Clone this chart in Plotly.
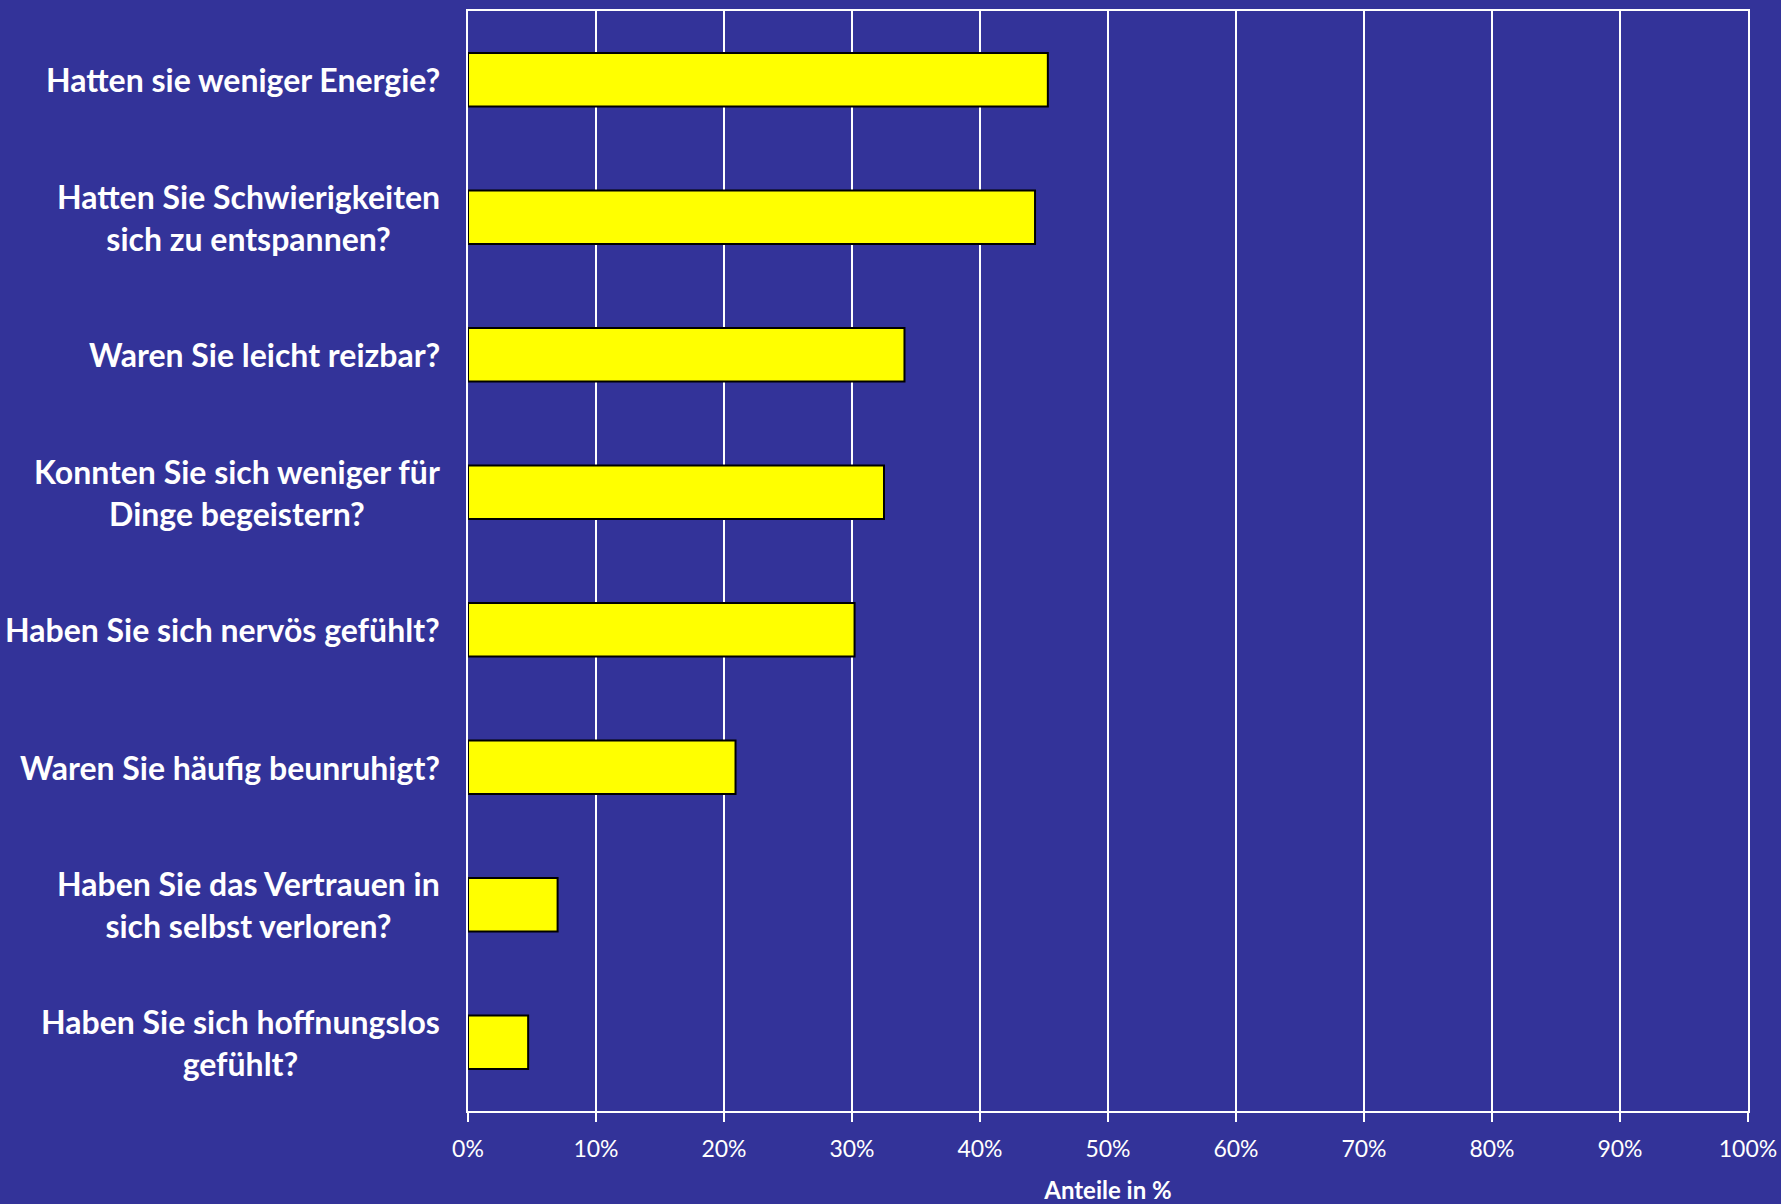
import plotly.graph_objects as go

categories = [
    "Hatten sie weniger Energie?",
    "Hatten Sie Schwierigkeiten<br>sich zu entspannen?",
    "Waren Sie leicht reizbar?",
    "Konnten Sie sich weniger für<br>Dinge begeistern?",
    "Haben Sie sich nervös gefühlt?",
    "Waren Sie häufig beunruhigt?",
    "Haben Sie das Vertrauen in<br>sich selbst verloren?",
    "Haben Sie sich hoffnungslos<br>gefühlt?",
]
values = [0.453, 0.443, 0.341, 0.325, 0.302, 0.209, 0.070, 0.047]
tick_vals = [i / 10 for i in range(11)]
tick_text = [f"{i * 10}%" for i in range(11)]
x_title = "Anteile in %"

BG = "#333399"
FONT = "Lato, Open Sans, sans-serif"

fig = go.Figure()
fig.add_trace(go.Bar(
    y=categories, x=values, orientation="h",
    marker=dict(color="#FFFF00", line=dict(color="#000000", width=2)),
    width=0.39,
    hoverinfo="skip",
))

for c in categories:
    fig.add_annotation(
        x=0, xref="paper", y=c, yref="y",
        text=f"<b>{c}</b>", showarrow=False,
        xanchor="right", yanchor="middle", align="center",
        xshift=-26,
        font=dict(family=FONT, size=32, color="white"),
    )

fig.update_layout(
    width=1781, height=1204,
    paper_bgcolor=BG, plot_bgcolor=BG,
    margin=dict(l=468, r=33, t=11, b=93, autoexpand=False),
    showlegend=False,
    bargap=0.6,
)
fig.update_xaxes(
    range=[0, 1], tickvals=tick_vals, ticktext=tick_text,
    showgrid=True, gridcolor="white", gridwidth=2,
    showline=True, linecolor="white", linewidth=2, mirror=True,
    ticks="outside", ticklen=9, tickcolor="white", tickwidth=2,
    ticklabelstandoff=7, automargin=False,
    tickfont=dict(family=FONT, size=23, color="white"),
    title=dict(text=f"<b>{x_title}</b>", standoff=29,
               font=dict(family=FONT, size=24, color="white")),
    zeroline=False,
)
fig.update_yaxes(
    autorange="reversed", showticklabels=False, automargin=False,
    showline=True, linecolor="white", linewidth=2, mirror=True,
    showgrid=False, ticks="",
)

fig.write_html("out.html", config={"displayModeBar": False},
               post_script="document.body.style.margin='0';")
